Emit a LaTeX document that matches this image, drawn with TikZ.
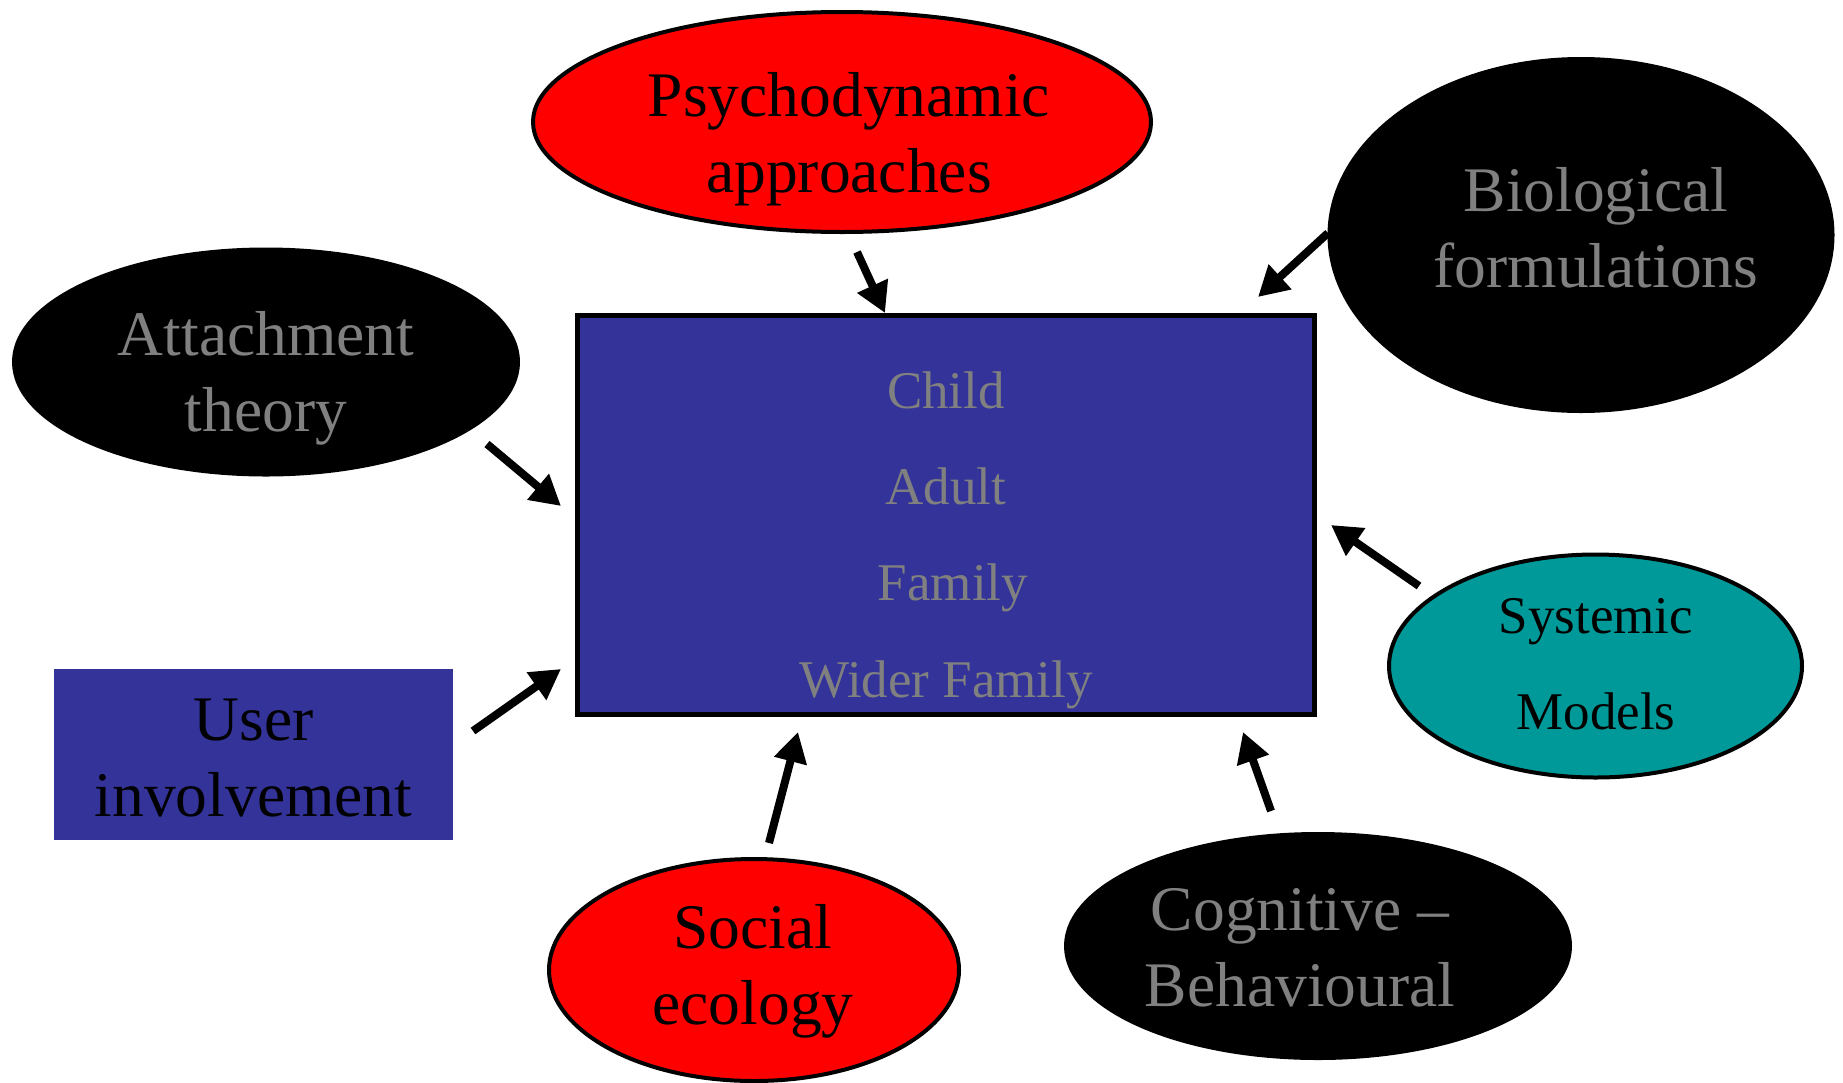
\documentclass[tikz,border=0pt]{standalone}
\usepackage{fontspec}
\setmainfont{Liberation Serif}
\usetikzlibrary{shapes.geometric,arrows.meta}
\definecolor{pred}{HTML}{FF0000}
\definecolor{pblue}{HTML}{333399}
\definecolor{pteal}{HTML}{009999}
\definecolor{pgray}{HTML}{808080}
\begin{document}
\begin{tikzpicture}[x=1pt,y=-1pt,
  ell/.style={ellipse, draw=black, line width=4pt, inner sep=0pt},
  big/.style={font=\fontsize{63.5}{76}\selectfont, align=center, inner sep=0pt},
  small/.style={font=\fontsize{53}{96.3}\selectfont, align=center, inner sep=0pt},
  arr/.style={line width=8pt, -{Triangle[length=30pt,width=32pt]}}
]
\useasboundingbox[fill=white] (0,0) rectangle (1843,1082);

% central box
\node[draw=black, line width=5pt, fill=pblue, minimum width=737pt, minimum height=399pt, inner sep=0pt] (core) at (946,515) {};
\node[small, text=pgray] (coret) at (946,540) {Child\\Adult\\\hspace*{14pt}Family\\Wider Family};

% surrounding nodes
\node[ell, fill=pred, minimum width=618pt, minimum height=220pt] (psy) at (842,122) {};
\node[big, text=black] (psyt) at (849,139) {Psychodynamic\\approaches};

\node[ell, fill=black, minimum width=503pt, minimum height=352pt] (bio) at (1581,235) {};
\node[big, text=pgray] (biot) at (1596,228) {Biological\\formulations};

\node[ell, fill=black, minimum width=504pt, minimum height=225pt] (att) at (266,362) {};
\node[big, text=pgray] (attt) at (266,378) {Attachment\\theory};

\node[fill=pblue, minimum width=399pt, minimum height=171pt, inner sep=0pt] (user) at (253.5,754.5) {};
\node[big, text=black] (usert) at (253.5,758) {User\\involvement};

\node[ell, fill=pteal, minimum width=413pt, minimum height=223pt] (sys) at (1595.5,666) {};
\node[small, text=black] (syst) at (1596,664) {Systemic\\Models};

\node[ell, fill=pred, minimum width=410pt, minimum height=222pt] (soc) at (754,970) {};
\node[big, text=black] (soct) at (753,971) {Social\\ecology};

\node[ell, fill=black, minimum width=504pt, minimum height=224pt] (cog) at (1318,946) {};
\node[big, text=pgray] (cogt) at (1300,948) {Cognitive \textendash\\Behavioural};

% arrows
\coordinate (a1s) at (857,252);  \coordinate (a1e) at (885,313);
\coordinate (a2s) at (1328,233); \coordinate (a2e) at (1258,297);
\coordinate (a3s) at (487,444);  \coordinate (a3e) at (561,506);
\coordinate (a4s) at (473,731);  \coordinate (a4e) at (561,669);
\coordinate (a5s) at (1419,586); \coordinate (a5e) at (1331,525);
\coordinate (a6s) at (769,843);  \coordinate (a6e) at (798,732);
\coordinate (a7s) at (1271,811); \coordinate (a7e) at (1243,732);
\draw[arr] (a1s) -- (a1e);
\draw[arr] (a2s) -- (a2e);
\draw[arr] (a3s) -- (a3e);
\draw[arr] (a4s) -- (a4e);
\draw[arr] (a5s) -- (a5e);
\draw[arr] (a6s) -- (a6e);
\draw[arr] (a7s) -- (a7e);
\end{tikzpicture}
\end{document}
